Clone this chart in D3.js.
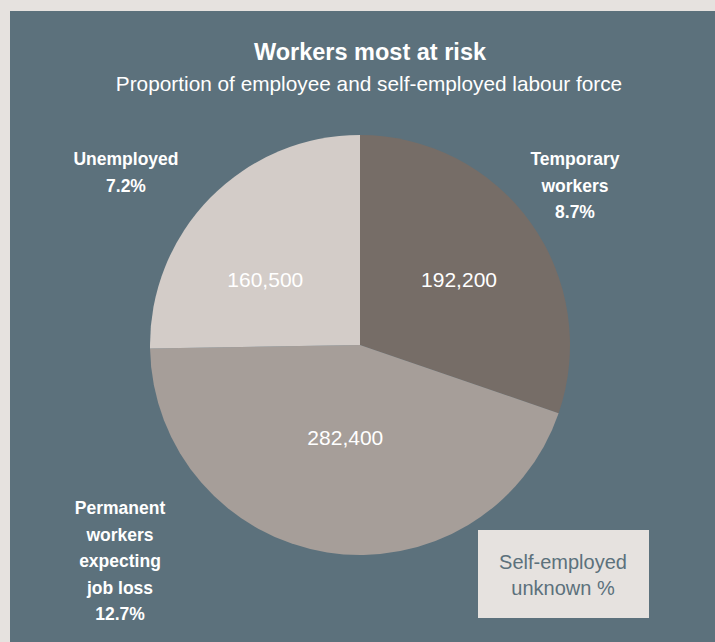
<!DOCTYPE html>
<html><head><meta charset="utf-8">
<script src="https://cdn.jsdelivr.net/npm/d3@7"></script>
<style>html,body{margin:0;padding:0;background:#e6e2df;}svg{display:block;}</style>
</head><body>
<script>
const categories = ["Temporary workers", "Permanent workers expecting job loss", "Unemployed"];
const values = [192200, 282400, 160500];
const shares = ["8.7%", "12.7%", "7.2%"];
const labelLines = [["Temporary", "workers"], ["Permanent", "workers", "expecting", "job loss"], ["Unemployed"]];
const title = "Workers most at risk";
const subtitle = "Proportion of employee and self-employed labour force";
const noteLines = ["Self-employed", "unknown %"];

const W = 715, H = 642;
const colors = ["#766d67", "#a69e99", "#d3ccc8"];
const labelRadius = [118, 94, 116];
const labelShift = [[3, 3], [0, 0], [-12, 16]];
const outerPos = [[575, 159], [120, 508], [126, 159]];
const font = "'Liberation Sans', Arial, sans-serif";

const svg = d3.select("body").append("svg").attr("width", W).attr("height", H);
svg.append("rect").attr("width", W).attr("height", H).attr("fill", "#e6e2df");
svg.append("rect").attr("x", 10).attr("y", 11).attr("width", W - 10).attr("height", H - 11).attr("fill", "#5c717c");

svg.append("text").attr("x", 370).attr("y", 60).attr("text-anchor", "middle")
  .attr("font-family", font).attr("font-size", 23.5).attr("font-weight", "bold")
  .attr("fill", "#ffffff").text(title);
svg.append("text").attr("x", 369).attr("y", 91).attr("text-anchor", "middle")
  .attr("font-family", font).attr("font-size", 20.8)
  .attr("fill", "#ffffff").text(subtitle);

const cx = 360, cy = 345, r = 210;
const pie = d3.pie().sort(null).value(d => d)(values);
const arc = d3.arc().innerRadius(0).outerRadius(r);
const g = svg.append("g").attr("transform", `translate(${cx},${cy})`);
g.selectAll("path").data(pie).join("path").attr("d", arc).attr("fill", (d, i) => colors[i]);

g.selectAll("text.val").data(pie).join("text").attr("class", "val")
  .attr("transform", (d, i) => {
    const c = d3.arc().innerRadius(labelRadius[i]).outerRadius(labelRadius[i]).centroid(d);
    return `translate(${c[0] + labelShift[i][0]},${c[1] + labelShift[i][1]})`;
  })
  .attr("text-anchor", "middle").attr("dy", "0.35em")
  .attr("font-family", font).attr("font-size", 21).attr("fill", "#ffffff")
  .text(d => d3.format(",")(d.data));

categories.forEach((c, i) => {
  const lines = labelLines[i].concat([shares[i]]);
  const t = svg.append("text").attr("text-anchor", "middle")
    .attr("font-family", font).attr("font-size", 17.5).attr("font-weight", "bold").attr("fill", "#ffffff");
  lines.forEach((ln, j) => {
    t.append("tspan").attr("x", outerPos[i][0]).attr("y", outerPos[i][1] + j * 26.5).attr("dy", "0.35em").text(ln);
  });
});

svg.append("rect").attr("x", 478).attr("y", 530).attr("width", 171).attr("height", 88).attr("fill", "#e6e2df");
const nt = svg.append("text").attr("text-anchor", "middle").attr("font-family", font).attr("font-size", 20).attr("fill", "#5c717c");
noteLines.forEach((ln, j) => nt.append("tspan").attr("x", 563).attr("y", 562 + j * 26).attr("dy", "0.35em").text(ln));
</script>
</body></html>
